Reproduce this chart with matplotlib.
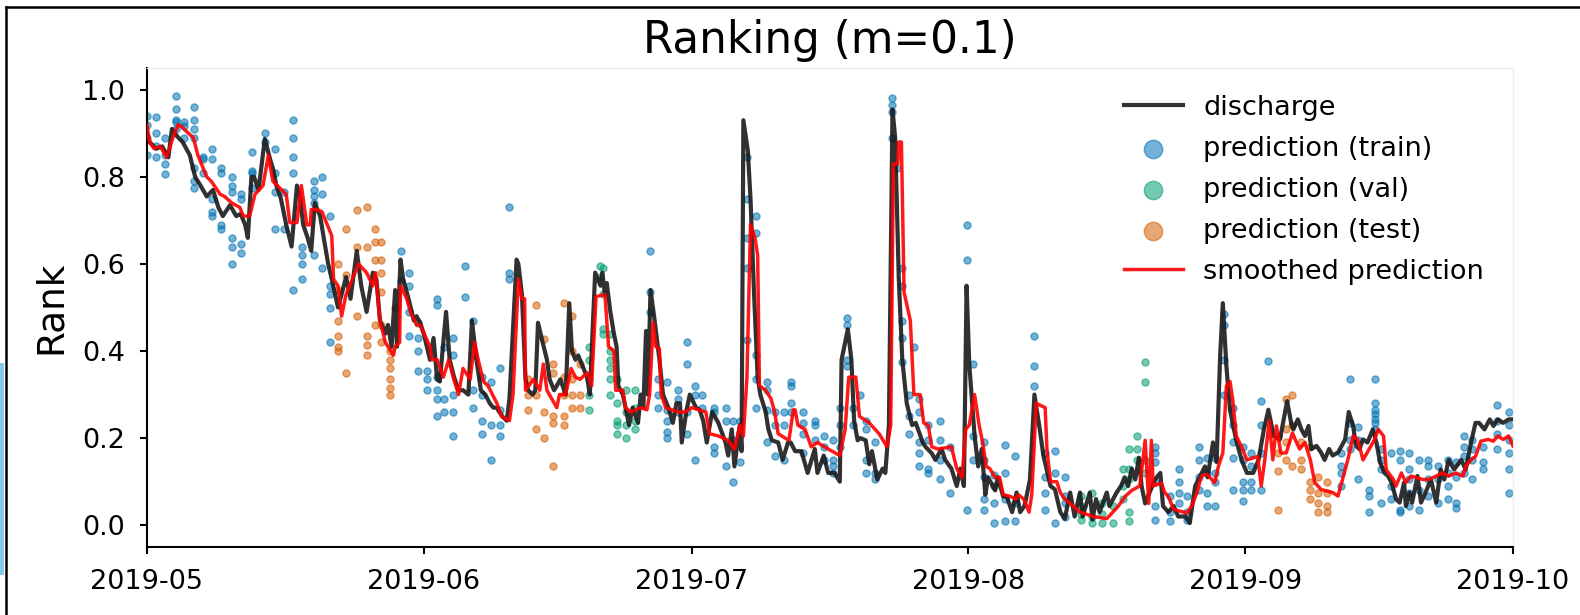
import matplotlib
matplotlib.use("Agg")
import matplotlib.pyplot as plt
import matplotlib.dates as mdates
from matplotlib.lines import Line2D
from matplotlib.patches import Rectangle
import pandas as pd

# days counted from 2019-05-01
start = pd.Timestamp("2019-05-01")

discharge_day = [0, 0.3, 1.0, 1.7, 2.4, 2.8, 3.3, 4.0, 4.8, 5.4, 6.0, 6.7, 7.4, 8.0, 8.5, 9.3, 10.0, 10.5,
                 11.0, 11.3, 11.7, 12.0, 12.5, 13.2, 13.8, 14.1, 14.5, 15.0, 15.6, 16.2, 16.8, 17.1, 17.5,
                 18.0, 18.4, 18.8, 19.4, 19.8, 20.3, 20.7, 21.4, 21.8, 22.3, 22.8, 23.5, 24.0, 24.6, 25.3,
                 25.7, 26.1, 26.7, 27.0, 27.4, 27.8, 28.0, 28.4, 28.7, 29.3, 29.9, 30.2, 30.6, 31.0, 31.7,
                 32.1, 32.5, 32.8, 33.5, 33.9, 34.4, 34.9, 35.4, 36.0, 36.4, 36.9, 37.4, 37.9, 38.4, 38.8,
                 39.2, 39.8, 40.3, 40.6, 41.0, 41.4, 41.6, 42.0, 42.4, 42.7, 43.2, 43.5, 43.8, 44.2, 44.8,
                 45.1, 45.6, 45.9, 46.3, 46.9, 47.3, 47.6, 48.0, 48.3, 48.9, 49.3, 49.6, 50.2, 50.8,
                 51.0, 51.3, 51.5, 51.9, 52.3, 52.6, 52.8, 53.3, 53.6, 54.0, 54.4, 55.0, 55.3, 55.6, 55.9,
                 56.1, 56.4, 56.8, 57.4, 57.8, 58.4, 58.9, 59.3, 59.7, 59.9, 60.4, 60.8, 61.5, 61.9, 62.3,
                 62.7, 63.3, 64.0, 64.8, 65.1, 65.5, 65.8, 66.4, 66.6, 66.8, 67.3, 67.6, 68.0, 68.4, 68.7,
                 69.3, 69.6, 70.0, 70.7, 71.2, 71.8, 72.1, 72.6, 73.3, 74.0, 74.8, 75.1, 75.8, 76.3,
                 77.0, 77.6, 77.8, 78.5, 78.9, 79.2, 79.6, 79.9, 80.5, 80.9, 81.2, 81.8, 82.4, 82.7, 83.1,
                 83.5, 83.8, 84.2, 84.6, 85.1, 85.7, 86.1, 86.9, 87.2, 87.9, 88.3, 89.0, 89.4, 90.1, 90.7,
                 91.1, 91.5, 91.8, 92.1, 92.7, 93.1, 93.5, 93.9, 94.2, 95.0, 95.3, 95.9, 96.3, 96.9, 97.4,
                 97.8, 98.3, 98.9, 99.4, 100.0, 100.4, 101.2, 101.7, 102.3, 102.8,
                 103.4, 103.9, 104.5, 104.8, 105.6, 105.9, 106.3, 106.7, 107.5, 107.8, 108.6, 109.1, 109.5,
                 109.9, 110.3, 110.7, 111.1, 111.4, 111.8, 112.0, 112.9, 113.5, 113.8, 114.4, 115.0, 115.5,
                 116.3, 116.8, 117.4, 117.9, 118.5, 118.8, 119.4, 119.8, 120.2, 120.5, 120.9, 121.3, 122.0,
                 122.6, 123.2, 123.9, 124.5, 125.1, 125.6, 126.2, 126.9, 127.7, 128.2,
                 128.4, 128.9, 129.3, 129.7, 130.1, 130.4, 131.0, 131.5, 131.9, 132.4, 132.8, 133.4, 133.8,
                 134.2, 134.6, 135.1, 135.4, 135.8, 136.2, 136.7, 137.3, 137.7, 138.1, 138.6, 139.0, 139.4,
                 139.9, 140.3, 140.8, 141.0, 141.4, 141.7, 142.3, 142.7, 143.2, 143.8, 144.4, 144.9, 145.3,
                 145.8, 146.4, 147.2, 147.7, 148.3, 148.8, 149.2, 149.8, 150.4, 150.8, 151.3, 151.9, 152.5,
                 153.0]
discharge_val = [0.90, 0.88, 0.865, 0.87, 0.845, 0.91, 0.895, 0.88, 0.85, 0.80, 0.78, 0.755, 0.77, 0.73, 0.71,
                 0.735, 0.71, 0.715, 0.69, 0.66, 0.80, 0.80, 0.77, 0.887, 0.84, 0.82, 0.78, 0.75, 0.69, 0.64,
                 0.78, 0.76, 0.69, 0.66, 0.63, 0.74, 0.71, 0.66, 0.60, 0.565, 0.50, 0.53, 0.57, 0.52, 0.63,
                 0.55, 0.49, 0.58,
                 0.565, 0.47, 0.44, 0.46, 0.41, 0.54, 0.41, 0.61, 0.565, 0.52, 0.47, 0.48, 0.465, 0.44, 0.38,
                 0.43, 0.335, 0.33, 0.49, 0.38, 0.34, 0.31, 0.31, 0.30, 0.47, 0.38, 0.31, 0.30, 0.28, 0.27,
                 0.27, 0.25, 0.24, 0.29, 0.45, 0.61, 0.60, 0.53, 0.335, 0.31, 0.30, 0.31, 0.465, 0.43, 0.38,
                 0.335, 0.31, 0.32, 0.335, 0.30, 0.51, 0.40, 0.38, 0.39, 0.36, 0.34, 0.30, 0.58, 0.55,
                 0.58, 0.53, 0.556, 0.49, 0.44, 0.41, 0.32, 0.30, 0.27, 0.23, 0.27, 0.235, 0.30, 0.27, 0.446,
                 0.30, 0.54, 0.48, 0.38, 0.30, 0.27, 0.235, 0.28, 0.28, 0.19, 0.26, 0.30, 0.27, 0.265, 0.24,
                 0.19, 0.26, 0.235, 0.19, 0.16, 0.22, 0.135, 0.23, 0.17, 0.93, 0.86, 0.75, 0.53, 0.34, 0.30,
                 0.26, 0.22, 0.195, 0.19, 0.15, 0.19, 0.19, 0.17, 0.17, 0.12, 0.175, 0.12, 0.16, 0.12,
                 0.12, 0.10, 0.38, 0.45, 0.38, 0.24, 0.195, 0.20, 0.195, 0.14, 0.17, 0.105, 0.13, 0.12, 0.23,
                 0.955, 0.89, 0.57, 0.38, 0.28, 0.23, 0.235, 0.19, 0.18, 0.165, 0.15, 0.175, 0.15, 0.13, 0.09,
                 0.13, 0.09, 0.55, 0.37, 0.205, 0.135, 0.175, 0.07, 0.11, 0.08, 0.11, 0.066, 0.066, 0.03, 0.075,
                 0.03, 0.045, 0.105, 0.30, 0.22, 0.16, 0.09, 0.082, 0.03, 0.015,
                 0.075, 0.02, 0.075, 0.02, 0.075, 0.013, 0.06, 0.03, 0.075, 0.044, 0.075, 0.09, 0.11,
                 0.09, 0.13, 0.105, 0.155, 0.09, 0.05, 0.06, 0.105, 0.12, 0.044, 0.03, 0.044, 0.02,
                 0.02, 0.005, 0.09, 0.11, 0.135, 0.11, 0.19, 0.145, 0.39, 0.51, 0.365, 0.265, 0.195,
                 0.15, 0.12, 0.12, 0.15, 0.22, 0.265, 0.205, 0.197, 0.285, 0.23,
                 0.22, 0.243, 0.22, 0.205, 0.228, 0.175, 0.182, 0.167, 0.15, 0.175, 0.16, 0.167, 0.182,
                 0.197, 0.26, 0.228, 0.182, 0.175, 0.197, 0.19, 0.22, 0.19, 0.145, 0.12, 0.113, 0.098,
                 0.06, 0.052, 0.098, 0.044, 0.075, 0.052, 0.113, 0.052, 0.075, 0.105, 0.052, 0.128, 0.105,
                 0.15, 0.128, 0.15, 0.128, 0.19, 0.235, 0.235, 0.22, 0.243, 0.228, 0.243, 0.235, 0.243,
                 0.243]

smooth_day = [0.0, 0.3, 0.8, 1.5, 2.2, 2.9, 3.5, 3.9, 4.4, 5.2, 5.7, 6.7, 7.2, 8.2, 8.7, 9.5, 10.4, 10.8, 11.5,
              12.1, 13.0, 13.6, 14.1, 15.6, 16.0, 16.8, 17.3, 17.9, 18.3, 18.4, 19.0, 19.6, 20.7, 20.9, 21.4,
              21.8, 22.3, 23.7, 24.6, 25.3, 25.6, 26.1, 26.7, 27.0, 27.6, 27.8, 28.3, 28.4, 29.1, 29.5, 30.2,
              30.6, 31.7, 31.9, 32.5, 33.2, 33.8, 34.3, 34.9, 35.4, 36.2, 36.7, 37.1, 37.7, 38.2, 39.2, 39.7,
              40.6, 41.0, 41.6, 42.0, 42.3, 42.4, 43.3, 44.0, 44.4, 44.8, 45.9, 46.2, 46.9, 47.5, 48.0, 48.5,
              49.3, 49.8, 50.3, 51.3, 51.7, 52.3, 52.5, 53.3, 53.6, 54.2, 55.3, 56.0, 56.3, 56.7, 57.0, 57.4,
              57.6, 58.1, 59.5, 60.3, 61.0, 62.6, 63.0, 64.0, 65.1, 65.8, 66.4, 66.8, 67.2, 67.6, 68.1, 68.4,
              68.6, 69.3, 69.9, 70.3, 70.7, 71.9, 72.4, 72.6, 72.9, 73.7, 74.4, 75.1, 76.3, 77.6, 78.2, 78.6,
              79.4, 79.8, 80.9, 82.0, 82.9, 83.3, 83.6, 84.1, 84.2, 84.5, 84.8, 85.5, 85.9, 86.6, 87.0, 87.5,
              87.9, 88.6, 90.1, 90.7, 91.3, 91.7, 92.1, 92.7, 93.2, 93.6, 94.0, 94.4, 95.0, 95.5, 95.9, 96.7,
              97.3, 97.6, 98.2, 98.8, 99.1, 99.6, 100.6, 100.8, 101.2, 101.9, 102.3, 102.8, 104.5, 106.0,
              107.5, 108.8, 109.6, 110.3, 111.2, 111.8, 112.2, 112.5, 112.7, 113.6, 114.0, 114.4, 115.0,
              116.5, 117.0, 117.6, 118.1, 118.7, 119.6, 120.0, 120.5, 120.9, 121.3, 121.6, 122.0, 122.6,
              123.2, 124.4, 124.8, 125.2, 125.7, 126.1, 126.5, 127.0, 127.6, 128.3, 128.6, 129.1, 129.7,
              130.3, 130.8, 131.5, 132.8, 133.4, 133.9, 134.5, 135.1, 135.6, 136.2, 136.9, 137.5, 137.9,
              138.5, 138.8, 139.6, 139.9, 140.5, 141.0, 141.6, 142.9, 143.6, 144.4, 145.1, 145.8, 146.6,
              147.4, 147.7, 148.3, 148.8, 149.4, 150.2, 150.8, 151.3, 151.9, 152.5, 153.0]
smooth_val = [0.92, 0.88, 0.865, 0.87, 0.845, 0.89, 0.92, 0.915, 0.905, 0.89, 0.85, 0.80, 0.79, 0.76, 0.755,
              0.74, 0.73, 0.71, 0.71, 0.76, 0.78, 0.85, 0.79, 0.76, 0.695, 0.695, 0.78, 0.69, 0.69, 0.725,
              0.725, 0.72, 0.665, 0.565, 0.55, 0.48, 0.53, 0.60, 0.58, 0.55, 0.58, 0.47, 0.42, 0.41, 0.39,
              0.41, 0.42, 0.55, 0.52, 0.49, 0.46, 0.46, 0.41, 0.38, 0.38, 0.34, 0.38, 0.34, 0.30, 0.36, 0.335,
              0.42, 0.38, 0.33, 0.32, 0.28, 0.25, 0.24, 0.30, 0.565, 0.52, 0.52, 0.31, 0.335, 0.31, 0.37, 0.31,
              0.27, 0.30, 0.30, 0.36, 0.34, 0.335, 0.35, 0.32, 0.525, 0.53, 0.41, 0.40, 0.31, 0.31, 0.27, 0.26,
              0.27, 0.265, 0.30, 0.465, 0.41, 0.405, 0.30, 0.27, 0.26, 0.26, 0.27, 0.26, 0.21, 0.205, 0.195,
              0.175, 0.23, 0.205, 0.34, 0.69, 0.66, 0.62, 0.32, 0.31, 0.29, 0.26, 0.21, 0.195, 0.265, 0.265,
              0.23, 0.22, 0.18, 0.19, 0.175, 0.16, 0.22, 0.34, 0.34, 0.25, 0.235, 0.21, 0.18, 0.23, 0.83, 0.83,
              0.88, 0.88, 0.535, 0.47, 0.30, 0.30, 0.235, 0.23, 0.18, 0.175, 0.18, 0.13, 0.11, 0.22, 0.23,
              0.30, 0.23, 0.19, 0.135, 0.13, 0.11, 0.11, 0.07, 0.066, 0.06, 0.07, 0.06, 0.03, 0.07, 0.28, 0.27,
              0.175, 0.10, 0.10, 0.075, 0.06, 0.03, 0.02, 0.015, 0.044, 0.067, 0.08, 0.09, 0.195, 0.05, 0.195,
              0.09, 0.097, 0.075, 0.066, 0.036, 0.028, 0.044, 0.075, 0.113, 0.117, 0.098, 0.135, 0.166, 0.32,
              0.33, 0.29, 0.205, 0.18, 0.15, 0.158, 0.09, 0.15, 0.24, 0.15, 0.228, 0.166, 0.166, 0.212, 0.197,
              0.175, 0.19, 0.15, 0.098, 0.082, 0.075, 0.067, 0.105, 0.15, 0.205, 0.197, 0.15, 0.175, 0.197,
              0.22, 0.205, 0.128, 0.105, 0.09, 0.12, 0.098, 0.113, 0.105, 0.105, 0.113, 0.12, 0.113, 0.12,
              0.113, 0.135, 0.15, 0.158, 0.193, 0.197, 0.193, 0.205, 0.197, 0.205, 0.182]

train_day = [0.0, 1.0, 2.0, 3.2, 4.2, 5.3, 6.3, 7.3, 8.3, 9.5, 10.5, 11.8, 13.2, 14.3, 15.4, 16.4, 17.4, 18.7,
             19.6, 20.5, 28.5, 29.4, 30.4, 31.4, 32.5, 33.3, 34.3, 35.6, 36.5, 37.5, 38.5, 39.5, 40.5,
             56.3, 57.2, 58.3, 59.5, 60.5, 61.4, 62.2, 63.5, 64.8, 65.6, 66.4, 67.2, 68.2, 69.4, 70.3, 71.3,
             72.1, 73.5, 74.8, 75.8, 76.8, 77.6, 78.4, 79.1, 79.9, 80.5, 81.5, 83.5, 84.0, 84.6, 85.3, 85.9,
             86.5, 87.5, 88.8, 89.9, 91.8, 92.5, 93.8, 94.9, 96.1, 97.2, 99.4, 100.6, 101.7, 102.8,
             112.9, 114.6, 115.6, 116.5, 117.8, 118.7, 119.6, 120.6, 121.6, 122.8, 123.7, 124.8, 125.6,
             133.7, 134.7, 135.6, 136.9, 137.5, 138.2, 139.3, 140.3, 141.3, 142.5, 143.5, 144.6, 145.7,
             146.6, 147.5, 148.4, 149.6, 151.2, 152.5]
train_val = [[0.94, 0.92, 0.89, 0.85], [0.937, 0.90, 0.87, 0.845], [0.89, 0.85, 0.83, 0.806],
             [0.986, 0.955, 0.93, 0.925, 0.91], [0.925, 0.917, 0.89],
             [0.96, 0.93, 0.91, 0.89, 0.82, 0.79, 0.775], [0.845, 0.84, 0.81], [0.865, 0.84, 0.75, 0.72, 0.71],
             [0.82, 0.81, 0.69, 0.68], [0.80, 0.78, 0.765, 0.66, 0.64, 0.60], [0.76, 0.75, 0.645, 0.625],
             [0.856, 0.814, 0.81, 0.775], [0.90, 0.88], [0.865, 0.81, 0.765, 0.68], [0.765, 0.68],
             [0.93, 0.89, 0.845, 0.81, 0.54], [0.64, 0.62, 0.60, 0.565], [0.79, 0.77, 0.755, 0.74, 0.62],
             [0.80, 0.76, 0.59], [0.71, 0.55, 0.53, 0.50, 0.42],
             [0.63, 0.56], [0.58, 0.55, 0.49, 0.435], [0.465, 0.43, 0.40, 0.355], [0.355, 0.335, 0.31],
             [0.52, 0.505, 0.34, 0.31, 0.29, 0.25], [0.41, 0.29, 0.26], [0.43, 0.39, 0.30, 0.26, 0.205],
             [0.595, 0.525], [0.47, 0.39, 0.31, 0.27], [0.34, 0.30, 0.24, 0.21], [0.33, 0.23, 0.15],
             [0.36, 0.265, 0.23, 0.205], [0.73, 0.58, 0.565],
             [0.63, 0.535, 0.49], [0.30, 0.27, 0.335], [0.33, 0.265, 0.24, 0.215, 0.20], [0.31, 0.29, 0.26],
             [0.42, 0.37, 0.26, 0.21], [0.32, 0.30, 0.15], [0.30, 0.27], [0.27, 0.26, 0.18, 0.165],
             [0.27, 0.24, 0.135], [0.24, 0.195, 0.10], [0.24, 0.145], [0.845, 0.75, 0.66, 0.59, 0.425],
             [0.71, 0.67, 0.39, 0.335, 0.27], [0.33, 0.31, 0.265, 0.19], [0.26, 0.23, 0.16], [0.26, 0.23, 0.15],
             [0.33, 0.32, 0.28, 0.26], [0.26, 0.235, 0.21, 0.165], [0.24, 0.23, 0.195], [0.205, 0.18, 0.15],
             [0.195, 0.15, 0.135, 0.12], [0.27, 0.23, 0.18], [0.475, 0.46, 0.38, 0.365], [0.27, 0.23],
             [0.30], [0.24, 0.22, 0.15, 0.12], [0.19, 0.105, 0.12], [0.98, 0.965, 0.95, 0.89], [0.82],
             [0.59, 0.55, 0.47, 0.43, 0.375], [0.30, 0.25, 0.21], [0.41], [0.29, 0.26, 0.19, 0.165, 0.135],
             [0.23, 0.195, 0.13, 0.12], [0.24, 0.195, 0.15, 0.105], [0.18, 0.075], [0.69, 0.61, 0.035],
             [0.37, 0.205, 0.15], [0.19, 0.15, 0.11, 0.06, 0.035], [0.115, 0.09, 0.05, 0.005],
             [0.185, 0.12, 0.06, 0.01], [0.16, 0.05, 0.01], [0.435, 0.365, 0.32], [0.165, 0.11, 0.075, 0.035],
             [0.17, 0.12, 0.005], [0.11, 0.067, 0.05, 0.02],
             [0.18, 0.165, 0.145, 0.10, 0.044, 0.013], [0.067, 0.03, 0.01], [0.13, 0.10, 0.075, 0.05],
             [0.067, 0.03, 0.013], [0.18, 0.15, 0.11, 0.08], [0.155, 0.12, 0.075, 0.044],
             [0.155, 0.12, 0.10, 0.044], [0.485, 0.46, 0.38, 0.30], [0.27, 0.23, 0.19, 0.155, 0.08],
             [0.18, 0.15, 0.10, 0.08, 0.055], [0.165, 0.135, 0.10, 0.08], [0.285, 0.23, 0.165, 0.08], [0.377],
             [0.165, 0.135, 0.12, 0.09], [0.335, 0.235, 0.195, 0.175], [0.225, 0.195, 0.105],
             [0.08, 0.067, 0.03], [0.335, 0.28, 0.265, 0.255, 0.245, 0.235, 0.22], [0.175, 0.15, 0.13, 0.05],
             [0.165, 0.09, 0.06], [0.17, 0.15, 0.035, 0.03], [0.165, 0.13, 0.105, 0.075, 0.044],
             [0.15, 0.08, 0.035], [0.15, 0.135, 0.105, 0.067], [0.135, 0.105, 0.05], [0.15, 0.12, 0.09, 0.06],
             [0.145, 0.11, 0.05, 0.04], [0.205, 0.18, 0.16, 0.12], [0.195, 0.175, 0.15, 0.105],
             [0.18, 0.145, 0.13], [0.275, 0.24, 0.21, 0.175], [0.26, 0.23, 0.195, 0.165, 0.13, 0.075]]

val_day = [49.5, 50.7, 51.1, 51.9, 52.7, 53.7, 54.7,
           104.6, 105.9, 107.0, 108.2, 109.3, 110.0, 110.9, 111.8]
val_val = [[0.41, 0.38, 0.335, 0.30, 0.265], [0.595, 0.57], [0.59, 0.53, 0.45, 0.44],
           [0.44, 0.40, 0.38, 0.36, 0.335, 0.30], [0.335, 0.28, 0.24, 0.23, 0.21], [0.31, 0.26, 0.23, 0.20],
           [0.31, 0.27, 0.24, 0.22],
           [0.067, 0.044, 0.025, 0.013], [0.075, 0.02, 0.005], [0.05, 0.025, 0.005], [0.044, 0.005],
           [0.13, 0.09, 0.06], [0.175, 0.13, 0.105, 0.03, 0.01], [0.205, 0.175, 0.15], [0.375, 0.33, 0.15, 0.12]]

test_day = [21.4, 22.3, 23.5, 24.6, 25.5, 26.2, 27.2, 27.8,
            42.7, 43.6, 44.5, 45.5, 46.7, 47.6, 48.5,
            126.7, 127.6, 128.2, 129.2, 130.3, 131.2, 132.2]
test_val = [[0.60, 0.54, 0.47, 0.435, 0.41, 0.40], [0.68, 0.575, 0.35], [0.725, 0.64, 0.48],
            [0.73, 0.64, 0.435, 0.415, 0.39], [0.68, 0.65, 0.61, 0.46], [0.65, 0.61, 0.58, 0.535, 0.46, 0.42],
            [0.40, 0.38, 0.36, 0.335, 0.315, 0.30], [0.50],
            [0.335, 0.30, 0.265], [0.505, 0.30, 0.22], [0.427, 0.26, 0.20], [0.37, 0.35, 0.25, 0.235, 0.135],
            [0.51, 0.34, 0.30, 0.25, 0.23], [0.48, 0.40, 0.335, 0.30, 0.27], [0.37, 0.30, 0.27],
            [0.205, 0.165, 0.125, 0.035], [0.29, 0.22, 0.19, 0.15], [0.30, 0.23, 0.135], [0.19, 0.15, 0.13],
            [0.18, 0.10, 0.08, 0.06], [0.11, 0.075, 0.05, 0.03], [0.10, 0.075, 0.044, 0.03]]


def to_dates(days):
    return [start + pd.Timedelta(days=d) for d in days]


def flatten(days, vals):
    xs = [d for d, vs in zip(days, vals) for _ in vs]
    ys = [v for vs in vals for v in vs]
    return to_dates(xs), ys


fig = plt.figure(figsize=(15.8, 6.15), dpi=100)
ax = fig.add_axes([0.093, 0.1106, 0.8646, 0.7788])

ax.plot(to_dates(discharge_day), discharge_val, color='#1a1a1a', lw=3, alpha=0.9, label='discharge', zorder=3)
x, y = flatten(train_day, train_val)
ax.scatter(x, y, s=26, color='#0173b2', alpha=0.55, label='prediction (train)', zorder=2)
x, y = flatten(val_day, val_val)
ax.scatter(x, y, s=26, color='#029e73', alpha=0.55, label='prediction (val)', zorder=2)
x, y = flatten(test_day, test_val)
ax.scatter(x, y, s=26, color='#d55e00', alpha=0.55, label='prediction (test)', zorder=2)
ax.plot(to_dates(smooth_day), smooth_val, color='#ff0000', lw=2.5, alpha=0.9, label='smoothed prediction', zorder=4)

ax.set_xlim(pd.Timestamp("2019-05-01"), pd.Timestamp("2019-10-01"))
ax.set_ylim(-0.05, 1.05)
ax.set_yticks([0.0, 0.2, 0.4, 0.6, 0.8, 1.0])
ax.xaxis.set_major_locator(mdates.MonthLocator())
ax.xaxis.set_major_formatter(mdates.DateFormatter('%Y-%m'))
ax.tick_params(labelsize=19.5, length=5, width=1.5)
ax.tick_params(axis='y', pad=11)
ax.tick_params(axis='x', pad=11)

for side in ['left', 'bottom']:
    ax.spines[side].set_linewidth(1.5)
for side in ['top', 'right']:
    ax.spines[side].set_color('#eeeeee')
    ax.spines[side].set_linewidth(1)

ax.set_title('Ranking (m=0.1)', fontsize=31.5, pad=11)
ax.set_ylabel('Rank', fontsize=27)
ax.yaxis.set_label_coords(-0.057, 0.5)

ax.legend(loc='upper left', bbox_to_anchor=(0.705, 0.972), frameon=False, fontsize=19.5,
          markerscale=2.6, handlelength=2.2, handletextpad=0.75, labelspacing=0.55, borderpad=0)

# screenshot frame
fig.add_artist(Line2D([0.004, 0.004], [0.0, 0.989], transform=fig.transFigure, color='black', lw=1.8))
fig.add_artist(Line2D([0.004, 1.0], [0.989, 0.989], transform=fig.transFigure, color='black', lw=1.8))
fig.add_artist(Rectangle((0, 1 - 575 / 615), 0.0028, 212 / 615, transform=fig.transFigure,
                         color='#86cbed', lw=0))

fig.savefig('out.png', dpi=100)
